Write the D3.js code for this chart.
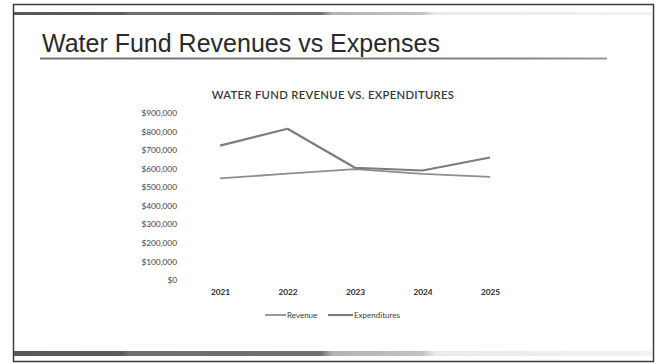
<!DOCTYPE html>
<html>
<head>
<meta charset="utf-8">
<script src="https://cdn.jsdelivr.net/npm/d3@7"></script>
<style>
  html, body { margin: 0; padding: 0; background: #fff; }
  svg { display: block; }
</style>
</head>
<body>
<svg id="chart" width="657" height="364"></svg>
<script>
// Fiscal years on the x axis
const years = ["2021", "2022", "2023", "2024", "2025"];
// Water fund revenue per year (USD)
const revenue = [548000, 573000, 598000, 572000, 556000];
// Water fund expenditures per year (USD)
const expenditures = [724000, 815000, 605000, 590000, 660000];
// Y axis tick values
const yTicks = [0, 100000, 200000, 300000, 400000, 500000, 600000, 700000, 800000, 900000];
const seriesNames = ["Revenue", "Expenditures"];

const svg = d3.select("#chart");

// Slide frame
const defs = svg.append("defs");
const grad = defs.append("linearGradient").attr("id", "bar").attr("x1", 0).attr("x2", 1);
grad.append("stop").attr("offset", "0%").attr("stop-color", "#585858");
grad.append("stop").attr("offset", "17%").attr("stop-color", "#5c5c5c");
grad.append("stop").attr("offset", "18%").attr("stop-color", "#6e6e6e");
grad.append("stop").attr("offset", "48%").attr("stop-color", "#707070");
grad.append("stop").attr("offset", "50%").attr("stop-color", "#b4b4b4");
grad.append("stop").attr("offset", "64%").attr("stop-color", "#c2c2c2");
grad.append("stop").attr("offset", "66%").attr("stop-color", "#eaeaea");
grad.append("stop").attr("offset", "100%").attr("stop-color", "#f2f2f2");

const ul = defs.append("linearGradient").attr("id", "ul").attr("x1", 0).attr("x2", 1);
ul.append("stop").attr("offset", "0%").attr("stop-color", "#707070");
ul.append("stop").attr("offset", "85%").attr("stop-color", "#858585");
ul.append("stop").attr("offset", "100%").attr("stop-color", "#9a9a9a");

svg.append("rect").attr("x", 13.5).attr("y", 4.5).attr("width", 640).attr("height", 357)
  .attr("fill", "#fff").attr("stroke", "#3c3c3c").attr("stroke-width", 1.5);
svg.append("rect").attr("x", 14).attr("y", 12).attr("width", 638).attr("height", 3).attr("fill", "url(#bar)");
svg.append("rect").attr("x", 14).attr("y", 351).attr("width", 638).attr("height", 5).attr("fill", "url(#bar)");

// Slide heading
svg.append("text").attr("x", 42).attr("y", 52)
  .attr("font-family", "Liberation Sans, Arial, sans-serif").attr("font-size", 25)
  .attr("fill", "#2a2a2a").text("Water Fund Revenues vs Expenses");
svg.append("rect").attr("x", 40).attr("y", 57.5).attr("width", 567).attr("height", 2).attr("fill", "url(#ul)");

// Chart
const x = d3.scalePoint().domain(years).range([220, 490]);
const y = d3.scaleLinear().domain([0, 900000]).range([280, 113]);

svg.append("text").attr("x", 333).attr("y", 99).attr("text-anchor", "middle")
  .attr("font-family", "Lato, 'Open Sans', sans-serif").attr("font-size", 11.3)
  .attr("font-weight", 600).attr("letter-spacing", 0.3).attr("fill", "#383838")
  .text("WATER FUND REVENUE VS. EXPENDITURES");

const yAxis = d3.axisLeft(y).tickValues(yTicks).tickSize(0).tickPadding(0)
  .tickFormat(d => "$" + d3.format(",")(d));
svg.append("g").attr("transform", "translate(177,0)").call(yAxis)
  .call(g => g.select(".domain").remove())
  .call(g => g.selectAll("text").attr("font-family", "Lato, 'Open Sans', sans-serif")
    .attr("font-size", 8.3).attr("fill", "#444"));

const xAxis = d3.axisBottom(x).tickSize(0).tickPadding(0);
svg.append("g").attr("transform", "translate(0,289)").call(xAxis)
  .call(g => g.select(".domain").remove())
  .call(g => g.selectAll("text").attr("font-family", "Lato, 'Open Sans', sans-serif")
    .attr("font-size", 8.3).attr("font-weight", "bold").attr("fill", "#2a2a2a"));

const line = d3.line().x((d, i) => x(years[i])).y(d => y(d));
const colors = ["#8e8e8e", "#7c7c7c"];
const widths = [1.8, 2.2];
[revenue, expenditures].forEach((s, i) => {
  svg.append("path").datum(s).attr("d", line).attr("fill", "none")
    .attr("stroke", colors[i]).attr("stroke-width", widths[i]).attr("stroke-linejoin", "round");
});

// Legend
const legend = [{ x0: 265, tx: 287 }, { x0: 328, tx: 354 }];
seriesNames.forEach((n, i) => {
  svg.append("line").attr("x1", legend[i].x0).attr("x2", legend[i].tx - 1).attr("y1", 315).attr("y2", 315)
    .attr("stroke", colors[i]).attr("stroke-width", widths[i]);
  svg.append("text").attr("x", legend[i].tx).attr("y", 318)
    .attr("font-family", "Lato, 'Open Sans', sans-serif").attr("font-size", 8)
    .attr("fill", "#3a3a3a").text(n);
});
</script>
</body>
</html>
